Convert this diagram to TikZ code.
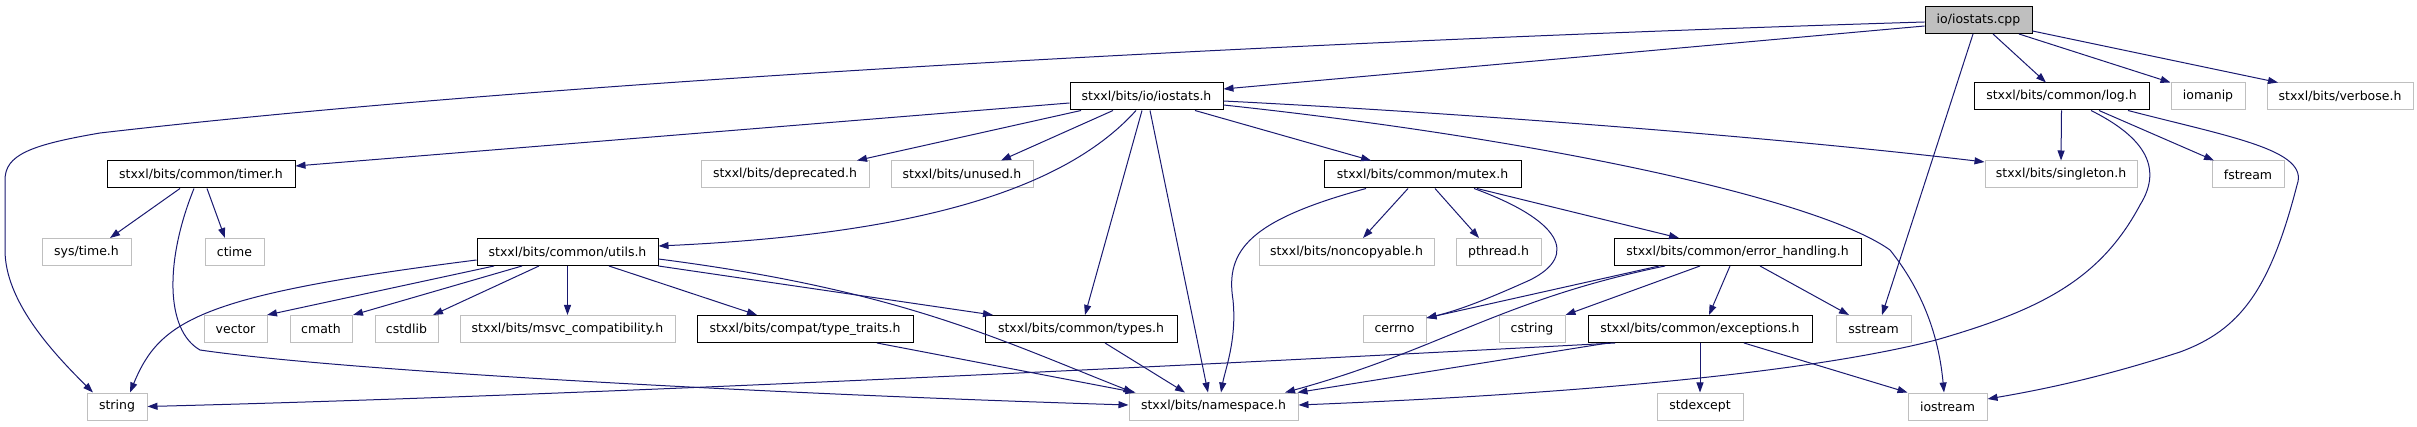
\documentclass[tikz,border=0pt]{standalone}
\usepackage{fontspec}
\setmainfont{DejaVu Sans}
\usepackage{tikz}
\usetikzlibrary{arrows.meta}
\definecolor{edgeblue}{HTML}{191970}
\definecolor{extgray}{HTML}{BFBFBF}

\begin{document}
\begin{tikzpicture}[
    x=1pt, y=-1pt,
    >={Triangle[length=10pt, width=7pt]},
    box/.style={rectangle, inner sep=0pt, minimum height=27pt, fill=white, line width=1pt,
                font=\fontsize{12.5pt}{14pt}\selectfont},
    doc/.style={box, draw=black, minimum width=#1},
    ext/.style={box, draw=extgray, minimum width=#1},
    mainfile/.style={box, draw=black, fill=extgray, minimum width=#1},
    dep/.style={->, line width=1pt, edgeblue},
]
\useasboundingbox (0,0) rectangle (2417,427);

% ─── Row 1: the source file ───
\node[mainfile=107] at (1978.5, 20) (cpp) {io/iostats.cpp};

% ─── Row 2 ───
\node[doc=153] at (1146.5, 96.5) (iostats) {stxxl/bits/io/iostats.h};
\node[doc=175] at (2061.5, 96.5) (logh)    {stxxl/bits/common/log.h};
\node[ext=74]  at (2208, 96.5)   (iomanip) {iomanip};
\node[ext=146] at (2340, 96.5)   (verbose) {stxxl/bits/verbose.h};

% ─── Row 3 ───
\node[doc=188] at (201, 174.5)    (timer)      {stxxl/bits/common/timer.h};
\node[ext=168] at (785, 174.5)    (deprecated) {stxxl/bits/deprecated.h};
\node[ext=142] at (962, 174.5)    (unused)     {stxxl/bits/unused.h};
\node[doc=197] at (1422.5, 174.5) (mutex)      {stxxl/bits/common/mutex.h};
\node[ext=152] at (2061, 174.5)   (singleton)  {stxxl/bits/singleton.h};
\node[ext=72]  at (2248, 174.5)   (fstream)    {fstream};

% ─── Row 4 ───
\node[ext=89]  at (86.5, 252)   (systime)     {sys/time.h};
\node[ext=59]  at (234.5, 252)  (ctime)       {ctime};
\node[doc=181] at (567.5, 252)  (utils)       {stxxl/bits/common/utils.h};
\node[ext=175] at (1346.5, 252) (noncopyable) {stxxl/bits/noncopyable.h};
\node[ext=85]  at (1498.5, 252) (pthread)     {pthread.h};
\node[doc=247] at (1737.5, 252) (errh)        {stxxl/bits/common/error\_handling.h};

% ─── Row 5 ───
\node[ext=63]  at (235.5, 329)  (vector)     {vector};
\node[ext=62]  at (321, 329)    (cmath)      {cmath};
\node[ext=63]  at (406.5, 329)  (cstdlib)    {cstdlib};
\node[ext=215] at (567.5, 329)  (msvc)       {stxxl/bits/msvc\_compatibility.h};
\node[doc=216] at (805, 329)    (typetraits) {stxxl/bits/compat/type\_traits.h};
\node[doc=192] at (1081, 329)   (types)      {stxxl/bits/common/types.h};
\node[ext=63]  at (1394.5, 329) (cerrno)     {cerrno};
\node[ext=66]  at (1532, 329)   (cstring)    {cstring};
\node[doc=224] at (1700, 329)   (exceptions) {stxxl/bits/common/exceptions.h};
\node[ext=75]  at (1873.5, 329) (sstream)    {sstream};

% ─── Row 6 ───
\node[ext=60]  at (117, 406.5)    (string)    {string};
\node[ext=169] at (1213.5, 406.5) (namespace) {stxxl/bits/namespace.h};
\node[ext=86]  at (1700, 406.5)   (stdexcept) {stdexcept};
\node[ext=79]  at (1947.5, 406.5) (iostream)  {iostream};

% ─── Edges from io/iostats.cpp ───
\draw[dep] ([yshift=-6pt]cpp.west) -- ([yshift=7.5pt]iostats.east);
\draw[dep] ([yshift=-2pt]cpp.west) .. controls (1400,38) and (600,75) .. (100,133)
    .. controls (30,145) and (5,155) .. (5,180) -- (5,250)
    .. controls (5,300) and (50,350) .. ([xshift=-24pt]string.north);
\draw[dep] ([xshift=-5.5pt]cpp.south) -- ([xshift=8.5pt]sstream.north);
\draw[dep] ([xshift=14.5pt]cpp.south) -- ([xshift=-15.5pt]logh.north);
\draw[dep] ([xshift=40.5pt]cpp.south) -- (iomanip.north west);
\draw[dep] ([yshift=-11pt]cpp.east) -- ([xshift=-62pt]verbose.north);

% ─── Edges from iostats.h ───
\draw[dep] ([yshift=-6.5pt]iostats.west) -- ([yshift=8.5pt]timer.east);
\draw[dep] ([xshift=-65.5pt]iostats.south) -- ([xshift=72pt]deprecated.north);
\draw[dep] ([xshift=-33.5pt]iostats.south) -- ([xshift=39pt]unused.north);
\draw[dep] ([xshift=-10.5pt]iostats.south) .. controls (1060,195) and (900,235) .. ([yshift=6pt]utils.east);
\draw[dep] ([xshift=-4.5pt]iostats.south) -- ([xshift=4pt]types.north);
\draw[dep] ([xshift=3.5pt]iostats.south) -- ([xshift=-5.5pt]namespace.north);
\draw[dep] ([xshift=48.5pt]iostats.south) -- ([xshift=-51.5pt]mutex.north);
\draw[dep] ([yshift=-4.5pt]iostats.east) .. controls (1500,115) and (1800,140) .. ([yshift=12.5pt]singleton.west);
\draw[dep] ([yshift=-8.5pt]iostats.east) .. controls (1550,140) and (1820,200) .. (1890,250)
    .. controls (1930,300) and (1940,350) .. ([xshift=-3.5pt]iostream.north);

% ─── Edges from log.h ───
\draw[dep] (logh.south) -- (singleton.north);
\draw[dep] ([xshift=37.5pt]logh.south) -- ([xshift=-34pt]fstream.north);
\draw[dep] ([xshift=29.5pt]logh.south) .. controls (2140,135) and (2165,165) .. (2140,205)
    .. controls (2100,280) and (2040,310) .. (1936,340)
    .. controls (1800,375) and (1550,395) .. ([yshift=1.5pt]namespace.east);
\draw[dep] ([xshift=66.5pt]logh.south) .. controls (2230,137) and (2310,150) .. (2297,185)
    .. controls (2270,290) and (2240,330) .. (2180,352)
    .. controls (2100,378) and (2040,390) .. ([yshift=7.5pt]iostream.east);

% ─── Edges from timer.h ───
\draw[dep] ([xshift=-21pt]timer.south) -- ([xshift=23.5pt]systime.north);
\draw[dep] ([xshift=6pt]timer.south) -- ([xshift=-9.5pt]ctime.north);
\draw[dep] ([xshift=-7pt]timer.south) .. controls (165,260) and (165,330) .. (200,350)
    .. controls (350,372) and (800,395) .. ([yshift=1.5pt]namespace.west);

% ─── Edges from mutex.h ───
\draw[dep] ([xshift=-14.5pt]mutex.south) -- ([xshift=16.5pt]noncopyable.north);
\draw[dep] ([xshift=12.5pt]mutex.south) -- ([xshift=-19.5pt]pthread.north);
\draw[dep] ([xshift=54.5pt]mutex.south) -- ([xshift=-58.5pt]errh.north);
\draw[dep] ([xshift=51.5pt]mutex.south) .. controls (1560,220) and (1580,255) .. (1530,280)
    .. controls (1490,298) and (1460,310) .. ([yshift=11pt]cerrno.east);
\draw[dep] ([xshift=-56.5pt]mutex.south) .. controls (1250,220) and (1225,250) .. (1233,300)
    .. controls (1237,340) and (1225,370) .. ([xshift=7.5pt]namespace.north);

% ─── Edges from utils.h ───
\draw[dep] ([yshift=-8pt]utils.west) .. controls (200,295) and (160,320) .. ([xshift=13pt]string.north);
\draw[dep] ([xshift=-73.5pt]utils.south) -- ([xshift=31.5pt]vector.north);
\draw[dep] ([xshift=-45.5pt]utils.south) -- ([xshift=32pt]cmath.north);
\draw[dep] ([xshift=-28.5pt]utils.south) -- ([xshift=26.5pt]cstdlib.north);
\draw[dep] (utils.south) -- (msvc.north);
\draw[dep] ([xshift=41.5pt]utils.south) -- ([xshift=-48pt]typetraits.north);
\draw[dep] (utils.south east) -- ([xshift=-88pt]types.north);
\draw[dep] ([yshift=-7pt]utils.east) .. controls (900,290) and (1000,340) .. ([xshift=-80pt]namespace.north);

% ─── Edges from type_traits.h and types.h ───
\draw[dep] ([xshift=72pt]typetraits.south) -- ([xshift=-78pt]namespace.north);
\draw[dep] ([xshift=24pt]types.south) -- ([xshift=-28.5pt]namespace.north);

% ─── Edges from error_handling.h ───
\draw[dep] ([xshift=-78.5pt]errh.south) -- ([yshift=11pt]cerrno.east);
\draw[dep] ([xshift=-72.5pt]errh.south) .. controls (1500,300) and (1440,350) .. ([xshift=71.5pt]namespace.north);
\draw[dep] ([xshift=-37.5pt]errh.south) -- (cstring.north east);
\draw[dep] ([xshift=-7.5pt]errh.south) -- ([xshift=9pt]exceptions.north);
\draw[dep] ([xshift=22.5pt]errh.south) -- ([xshift=-24.5pt]sstream.north);

% ─── Edges from exceptions.h ───
\draw[dep] ([xshift=-85pt]exceptions.south) .. controls (1200,365) and (600,395) .. (string.east);
\draw[dep] ([xshift=-92pt]exceptions.south) -- ([xshift=84pt]namespace.north);
\draw[dep] (exceptions.south) -- (stdexcept.north);
\draw[dep] ([xshift=44pt]exceptions.south) -- (iostream.north west);

\end{tikzpicture}
\end{document}
